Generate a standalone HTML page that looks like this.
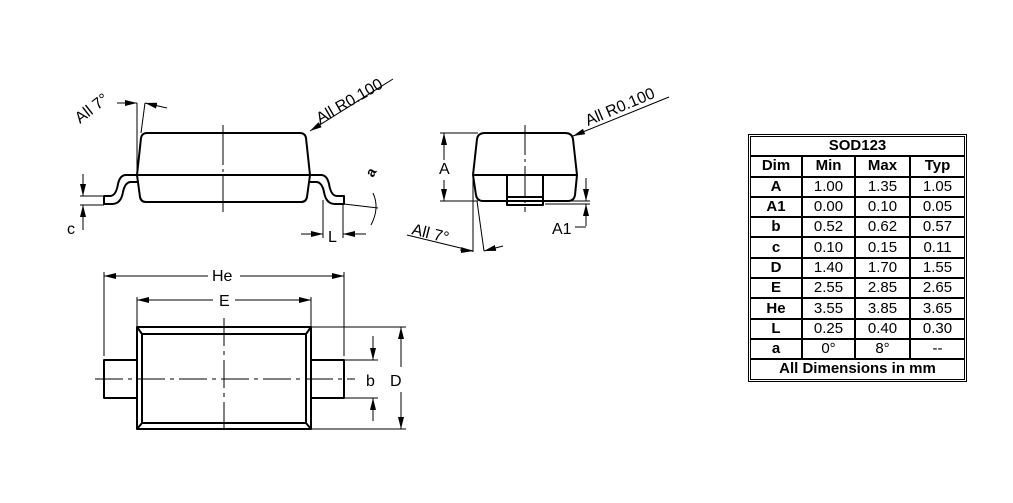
<!DOCTYPE html>
<html><head><meta charset="utf-8"><style>
html,body{margin:0;padding:0;background:#fff;width:1013px;height:503px;overflow:hidden}
svg{position:absolute;left:0;top:0}
text{font-family:"Liberation Sans",Arial,sans-serif;fill:#000}
table{position:absolute;left:748px;top:134px;width:219px;border:1px solid #000;padding:1px;border-collapse:separate;border-spacing:0;font-family:"Liberation Sans",Arial,sans-serif;font-size:15px}
td{border:1px solid #000;height:18.3px;padding:0;text-align:center;line-height:18px}
td.b{font-weight:bold}
</style></head><body>
<svg width="1013" height="503" viewBox="0 0 1013 503">
<defs>
<marker id="ar" markerWidth="12" markerHeight="6" refX="12" refY="3" orient="auto" markerUnits="userSpaceOnUse"><path d="M0,0 L12,3 L0,6 z" fill="#000"/></marker>
</defs>
<g fill="none" stroke="#000" stroke-width="2" stroke-linejoin="round">
<path d="M137,175 L141,138 Q142,133 147,133 L300,133 Q305,133 306,138 L310,175 L307,197 Q306,202 301,202 L146,202 Q141,202 140,197 Z"/>
<line x1="137" y1="175" x2="310" y2="175"/>
<path d="M137,175 L126,175 Q120,175 118,184 Q116,196 110,196 L104,196 L104,204 L112,204 Q121,204 123,192 Q125,182 131,182 L137,182"/>
<path d="M310,175 L321,175 Q327,175 329,184 Q331,196 337,196 L344,196 L344,204 L335,204 Q326,204 324,192 Q322,182 316,182 L310,182"/>
<path d="M473,175 L477,139 Q478,133 485,133 L565,133 Q572,133 573,139 L577,175 L575,195 Q574,201 568,201 L483,201 Q477,201 476,195 Z"/>
<line x1="473" y1="175" x2="577" y2="175"/>
<rect x="507" y="175" width="36" height="30"/>
<line x1="507" y1="197" x2="543" y2="197"/>
<rect x="137" y="327" width="174" height="102"/>
<rect x="142" y="334" width="164" height="89"/>
<path d="M137,327 L142,334 M311,327 L306,334 M137,429 L142,423 M311,429 L306,423"/>
<rect x="104" y="360" width="33" height="38"/>
<rect x="311" y="360" width="33" height="38"/>
</g>
<g fill="none" stroke="#000" stroke-width="1">
<path d="M223,125 V212" stroke-dasharray="40,4,3,4"/>
<path d="M525,125 V212" stroke-dasharray="30,4,3,4"/>
<path d="M95,379 H355" stroke-dasharray="28,5,4,5"/>
<path d="M224,318 V435" stroke-dasharray="28,5,4,5"/>
<line x1="137" y1="103" x2="137" y2="175"/>
<line x1="145" y1="103" x2="141" y2="133"/>
<line x1="117" y1="103" x2="137" y2="103" marker-end="url(#ar)"/>
<line x1="167" y1="108" x2="145" y2="103" marker-end="url(#ar)"/>
<line x1="393" y1="79" x2="310" y2="131" marker-end="url(#ar)"/>
<line x1="80" y1="196" x2="104" y2="196"/><line x1="80" y1="205" x2="104" y2="205"/>
<line x1="83" y1="174" x2="83" y2="196" marker-end="url(#ar)"/>
<line x1="83" y1="230" x2="83" y2="205" marker-end="url(#ar)"/>
<line x1="323" y1="200" x2="323" y2="238"/><line x1="343" y1="205" x2="343" y2="238"/>
<line x1="301" y1="234" x2="323" y2="234" marker-end="url(#ar)"/>
<line x1="366" y1="234" x2="343" y2="234" marker-end="url(#ar)"/>
<line x1="344" y1="204" x2="378" y2="208"/>
<path d="M373,193 Q380,208 371,225"/>
<line x1="440" y1="133" x2="478" y2="133"/><line x1="440" y1="201" x2="478" y2="201"/>
<line x1="444" y1="160" x2="444" y2="133" marker-end="url(#ar)"/>
<line x1="444" y1="180" x2="444" y2="201" marker-end="url(#ar)"/>
<line x1="545" y1="201" x2="590" y2="201"/><line x1="545" y1="204" x2="590" y2="204"/>
<line x1="586" y1="178" x2="586" y2="201" marker-end="url(#ar)"/>
<line x1="586" y1="226" x2="586" y2="204" marker-end="url(#ar)"/>
<line x1="575" y1="227" x2="586" y2="227"/>
<line x1="669" y1="97" x2="573" y2="136" marker-end="url(#ar)"/>
<line x1="473" y1="175" x2="473" y2="252"/>
<line x1="477" y1="201" x2="484" y2="251"/>
<line x1="407" y1="235" x2="473" y2="251"/>
<line x1="460" y1="250" x2="473" y2="251" marker-end="url(#ar)"/>
<line x1="503" y1="246" x2="484" y2="251" marker-end="url(#ar)"/>
<line x1="104" y1="272" x2="104" y2="356"/><line x1="344" y1="272" x2="344" y2="356"/>
<line x1="208" y1="276" x2="104" y2="276" marker-end="url(#ar)"/>
<line x1="240" y1="276" x2="344" y2="276" marker-end="url(#ar)"/>
<line x1="137" y1="297" x2="137" y2="327"/><line x1="311" y1="297" x2="311" y2="327"/>
<line x1="213" y1="300" x2="137" y2="300" marker-end="url(#ar)"/>
<line x1="235" y1="300" x2="311" y2="300" marker-end="url(#ar)"/>
<line x1="311" y1="327" x2="406" y2="327"/><line x1="311" y1="429" x2="406" y2="429"/>
<line x1="401" y1="367" x2="401" y2="327" marker-end="url(#ar)"/>
<line x1="401" y1="392" x2="401" y2="429" marker-end="url(#ar)"/>
<line x1="344" y1="360" x2="378" y2="360"/><line x1="344" y1="398" x2="378" y2="398"/>
<line x1="373" y1="336" x2="373" y2="360" marker-end="url(#ar)"/>
<line x1="373" y1="421" x2="373" y2="398" marker-end="url(#ar)"/>
</g>
<g font-size="16">
<text x="0" y="0" transform="translate(80,124) rotate(-38)">All 7°</text>
<text x="0" y="0" transform="translate(320,124) rotate(-30)">All R0.100</text>
<text x="0" y="0" transform="translate(588,126) rotate(-23)">All R0.100</text>
<text x="0" y="0" transform="translate(411,234) rotate(14)">All 7°</text>
<text x="67" y="234">c</text>
<text x="328" y="242">L</text>
<text x="0" y="0" transform="translate(373,178) rotate(-60)" font-size="14" font-weight="bold">a</text>
<text x="439" y="174">A</text>
<text x="552" y="234">A1</text>
<text x="212" y="281">He</text>
<text x="219" y="306">E</text>
<text x="366" y="386">b</text>
<text x="390" y="386">D</text>
</g>
</svg>
<table>
<tr><td colspan="4" class="b">SOD123</td></tr>
<tr><td class="b" style="width:50px">Dim</td><td class="b" style="width:51px">Min</td><td class="b" style="width:53px">Max</td><td class="b">Typ</td></tr>
<tr><td class="b">A</td><td>1.00</td><td>1.35</td><td>1.05</td></tr>
<tr><td class="b">A1</td><td>0.00</td><td>0.10</td><td>0.05</td></tr>
<tr><td class="b">b</td><td>0.52</td><td>0.62</td><td>0.57</td></tr>
<tr><td class="b">c</td><td>0.10</td><td>0.15</td><td>0.11</td></tr>
<tr><td class="b">D</td><td>1.40</td><td>1.70</td><td>1.55</td></tr>
<tr><td class="b">E</td><td>2.55</td><td>2.85</td><td>2.65</td></tr>
<tr><td class="b">He</td><td>3.55</td><td>3.85</td><td>3.65</td></tr>
<tr><td class="b">L</td><td>0.25</td><td>0.40</td><td>0.30</td></tr>
<tr><td class="b">a</td><td>0°</td><td>8°</td><td>--</td></tr>
<tr><td colspan="4" class="b">All Dimensions in mm</td></tr>
</table>
</body></html>
